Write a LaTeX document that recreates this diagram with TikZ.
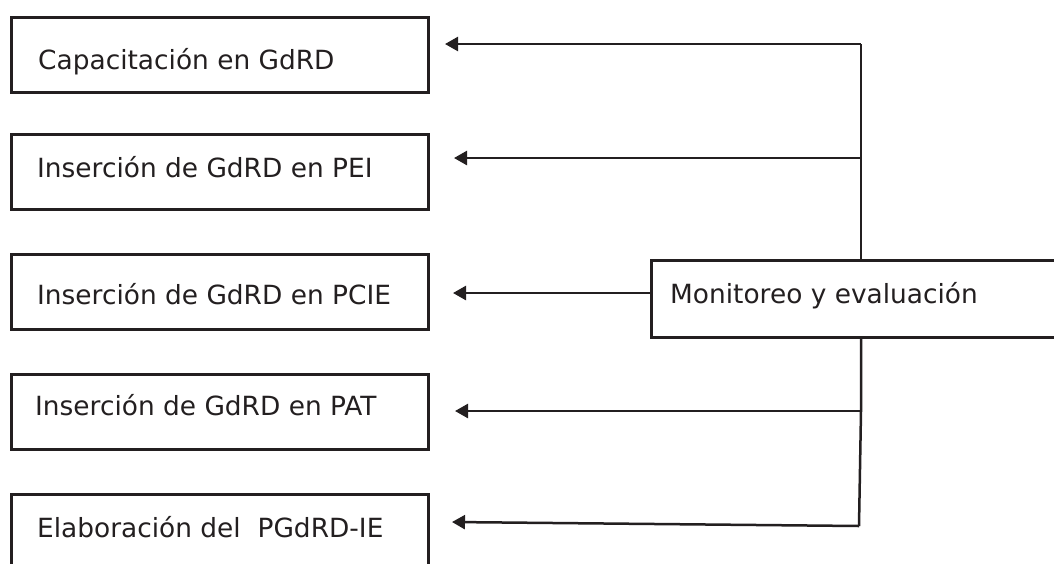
\documentclass[tikz,border=0pt]{standalone}
\usepackage{fontspec}
\setmainfont{DejaVu Sans}
\usetikzlibrary{arrows.meta}
\definecolor{ink}{HTML}{231F20}
\begin{document}
\begin{tikzpicture}[x=1pt,y=-1pt,
  boxnode/.style={draw=ink, line width=2.8pt, rectangle, inner sep=0pt,
    minimum width=417pt, minimum height=75pt, anchor=north west},
  mbox/.style={draw=ink, line width=2.8pt, rectangle, inner sep=0pt,
    minimum width=420pt, minimum height=77pt, anchor=north west},
  lbl/.style={text=ink, anchor=base west, inner sep=0pt,
    font=\fontsize{26.4}{30}\selectfont},
  conn/.style={draw=ink, line width=2.5pt},
  arr/.style={draw=ink, line width=2.5pt, -{Triangle[length=13pt,width=14pt]}}
]
\clip (0,0) rectangle (1054,563);
\fill[white] (0,0) rectangle (1054,563);

% boxes
\node[boxnode] (b1) at (10,16) {};
\node[boxnode] (b2) at (10,133) {};
\node[boxnode] (b3) at (10,253) {};
\node[boxnode] (b4) at (10,373) {};
\node[boxnode, minimum height=85pt] (b5) at (10,493) {};
\node[mbox] (m) at (650,259) {};

% labels
\node[lbl] (l1) at (38,69) {Capacitación en GdRD};
\node[lbl] (l2) at (37,177) {Inserción de GdRD en PEI};
\node[lbl] (l3) at (37,304) {Inserción de GdRD en PCIE};
\node[lbl] (l4) at (35,415) {Inserción de GdRD en PAT};
\node[lbl] (l5) at (37,537) {Elaboración del\ \ PGdRD-IE};
\node[lbl] (lm) at (670,303) {Monitoreo y evaluación};

% junctions and arrow tips
\coordinate (mt) at (861,259);
\coordinate (mb) at (861,336);
\coordinate (j1) at (861,44);
\coordinate (j2) at (861,158);
\coordinate (j4) at (861,411);
\coordinate (j5) at (859,526);
\coordinate (t1) at (445,44);
\coordinate (t2) at (454,158);
\coordinate (t3) at (453,293);
\coordinate (t4) at (455,411);
\coordinate (t5) at (452,522);

% connectors
\draw[conn] (mt) -- (j1);
\draw[arr] (j1) -- (t1);
\draw[arr] (j2) -- (t2);
\draw[arr] (m.west |- t3) -- (t3);
\draw[conn] (mb) -- (j4) -- (j5);
\draw[arr] (j4) -- (t4);
\draw[arr] (j5) -- (t5);
\end{tikzpicture}
\end{document}
